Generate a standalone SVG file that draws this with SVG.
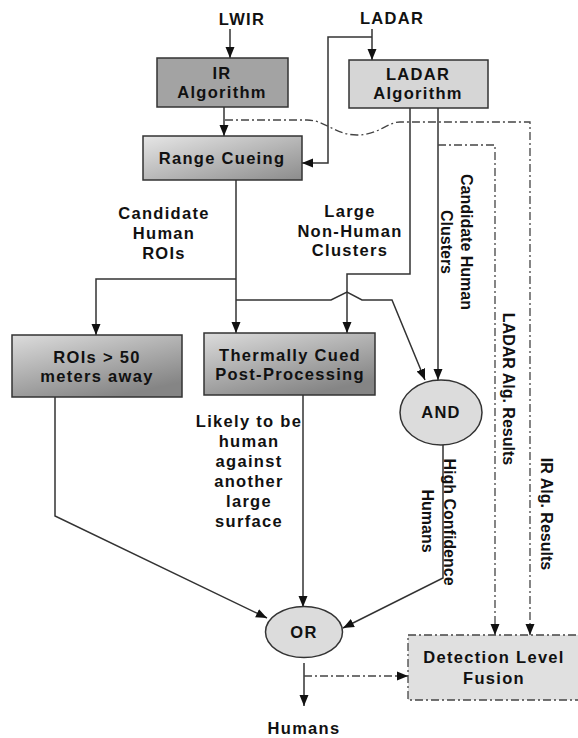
<svg xmlns="http://www.w3.org/2000/svg" width="578" height="738" viewBox="0 0 578 738">
<defs>
<marker id="ah" markerUnits="userSpaceOnUse" markerWidth="12" markerHeight="12" viewBox="0 0 12 12" refX="11" refY="6" orient="auto">
<path d="M0,1.5 L11,6 L0,10.5 Z" fill="#111"/>
</marker>
<linearGradient id="gRC" x1="0" y1="0" x2="1" y2="1">
<stop offset="0" stop-color="#e6e6e6"/><stop offset="1" stop-color="#8c8c8c"/>
</linearGradient>
<linearGradient id="gBox" x1="0" y1="0" x2="0.6" y2="1">
<stop offset="0" stop-color="#dcdcdc"/><stop offset="1" stop-color="#858585"/>
</linearGradient>
<style>
.t{font-family:"Liberation Sans",Arial,sans-serif;font-weight:bold;font-size:16.5px;letter-spacing:1.3px;fill:#111;text-anchor:middle}
.r{font-family:"Liberation Sans",Arial,sans-serif;font-weight:bold;font-size:16px;fill:#111;text-anchor:middle}
.box{stroke:#333;stroke-width:1.5}
.ln{fill:none;stroke:#333;stroke-width:1.5}
.dd{fill:none;stroke:#444;stroke-width:1.3;stroke-dasharray:8,3,2,3}
</style>
</defs>

<g id="connectors">
<path class="ln" d="M230,29 V58" marker-end="url(#ah)"/>
<path class="ln" d="M372,29 V60" marker-end="url(#ah)"/>
<path class="ln" d="M372,37 H328 V163 H302" marker-end="url(#ah)"/>
<path class="ln" d="M224,107 V136" marker-end="url(#ah)"/>
<path class="ln" d="M236,180 V333" marker-end="url(#ah)"/>
<path class="ln" d="M236,279 H96 V335" marker-end="url(#ah)"/>
<path class="ln" d="M236,300 H331 L347,292 L362,300 H392 L425,380" marker-end="url(#ah)"/>
<path class="ln" d="M410,108 V274 H347 V333" marker-end="url(#ah)"/>
<path class="ln" d="M438,108 V380" marker-end="url(#ah)"/>
<path class="ln" d="M303,395 V607" marker-end="url(#ah)"/>
<path class="ln" d="M55,397 V516 L267,618" marker-end="url(#ah)"/>
<path class="ln" d="M443,445 V578 L343,628" marker-end="url(#ah)"/>
<path class="ln" d="M304,663 V706" marker-end="url(#ah)"/>
<path class="dd" d="M304,676 H408" marker-end="url(#ah)"/>
<path class="dd" d="M225,120 H307 C325,120 335,135 357,135 C378,135 388,122 400,122 H530 V635" marker-end="url(#ah)"/>
<path class="dd" d="M438,145 H495 V635" marker-end="url(#ah)"/>
</g>

<g id="lbl-lwir"><text class="t" x="242" y="25">LWIR</text></g>
<g id="lbl-ladar"><text class="t" x="392" y="24">LADAR</text></g>

<g id="ir-algorithm">
<rect class="box" x="157" y="58" width="131" height="49" fill="#a3a3a3"/>
<text class="t" x="222" y="79">IR</text>
<text class="t" x="222" y="98">Algorithm</text>
</g>

<g id="ladar-algorithm">
<rect class="box" x="349" y="60" width="139" height="48" fill="#d6d6d6"/>
<text class="t" x="418" y="80">LADAR</text>
<text class="t" x="418" y="99">Algorithm</text>
</g>

<g id="range-cueing">
<rect class="box" x="143" y="136" width="159" height="44" fill="url(#gRC)"/>
<text class="t" x="222" y="164">Range Cueing</text>
</g>

<g id="rois-far">
<rect class="box" x="12" y="335" width="170" height="62" fill="url(#gBox)"/>
<text class="t" x="97" y="363">ROIs &gt; 50</text>
<text class="t" x="97" y="382">meters away</text>
</g>

<g id="thermally-cued">
<rect class="box" x="204" y="333" width="171" height="62" fill="url(#gBox)"/>
<text class="t" x="290" y="361">Thermally Cued</text>
<text class="t" x="290" y="380">Post-Processing</text>
</g>

<g id="and-node">
<ellipse class="box" cx="441" cy="412.5" rx="41" ry="32.5" fill="#dcdcdc" stroke="#555"/>
<text class="t" x="441" y="418">AND</text>
</g>

<g id="or-node">
<ellipse class="box" cx="304" cy="632" rx="38.5" ry="25.5" fill="#dcdcdc" stroke="#555"/>
<text class="t" x="304" y="638">OR</text>
</g>

<g id="fusion">
<rect x="408" y="635" width="175" height="65" fill="#e0e0e0" stroke="#444" stroke-width="1.3" stroke-dasharray="8,3,2,3"/>
<text class="t" x="494" y="663">Detection Level</text>
<text class="t" x="494" y="684">Fusion</text>
</g>

<g id="labels">
<text class="t" x="164" y="219">Candidate</text>
<text class="t" x="164" y="239">Human</text>
<text class="t" x="164" y="259">ROIs</text>
<text class="t" x="350" y="217">Large</text>
<text class="t" x="350" y="237">Non-Human</text>
<text class="t" x="350" y="256">Clusters</text>
<text class="t" x="249" y="427">Likely to be</text>
<text class="t" x="249" y="447">human</text>
<text class="t" x="249" y="467">against</text>
<text class="t" x="249" y="487">another</text>
<text class="t" x="249" y="507">large</text>
<text class="t" x="249" y="527">surface</text>
<text class="t" x="304" y="734">Humans</text>
<g transform="translate(467,242) rotate(90)"><text class="r" x="0" y="6">Candidate Human</text></g>
<g transform="translate(447,242) rotate(90)"><text class="r" x="0" y="6">Clusters</text></g>
<g transform="translate(509,389) rotate(90)"><text class="r" x="0" y="6">LADAR Alg. Results</text></g>
<g transform="translate(547,514) rotate(90)"><text class="r" x="0" y="6">IR Alg. Results</text></g>
<g transform="translate(450,522) rotate(90)"><text class="r" x="0" y="6">High Confidence</text></g>
<g transform="translate(428,521) rotate(90)"><text class="r" x="0" y="6">Humans</text></g>
</g>
</svg>
